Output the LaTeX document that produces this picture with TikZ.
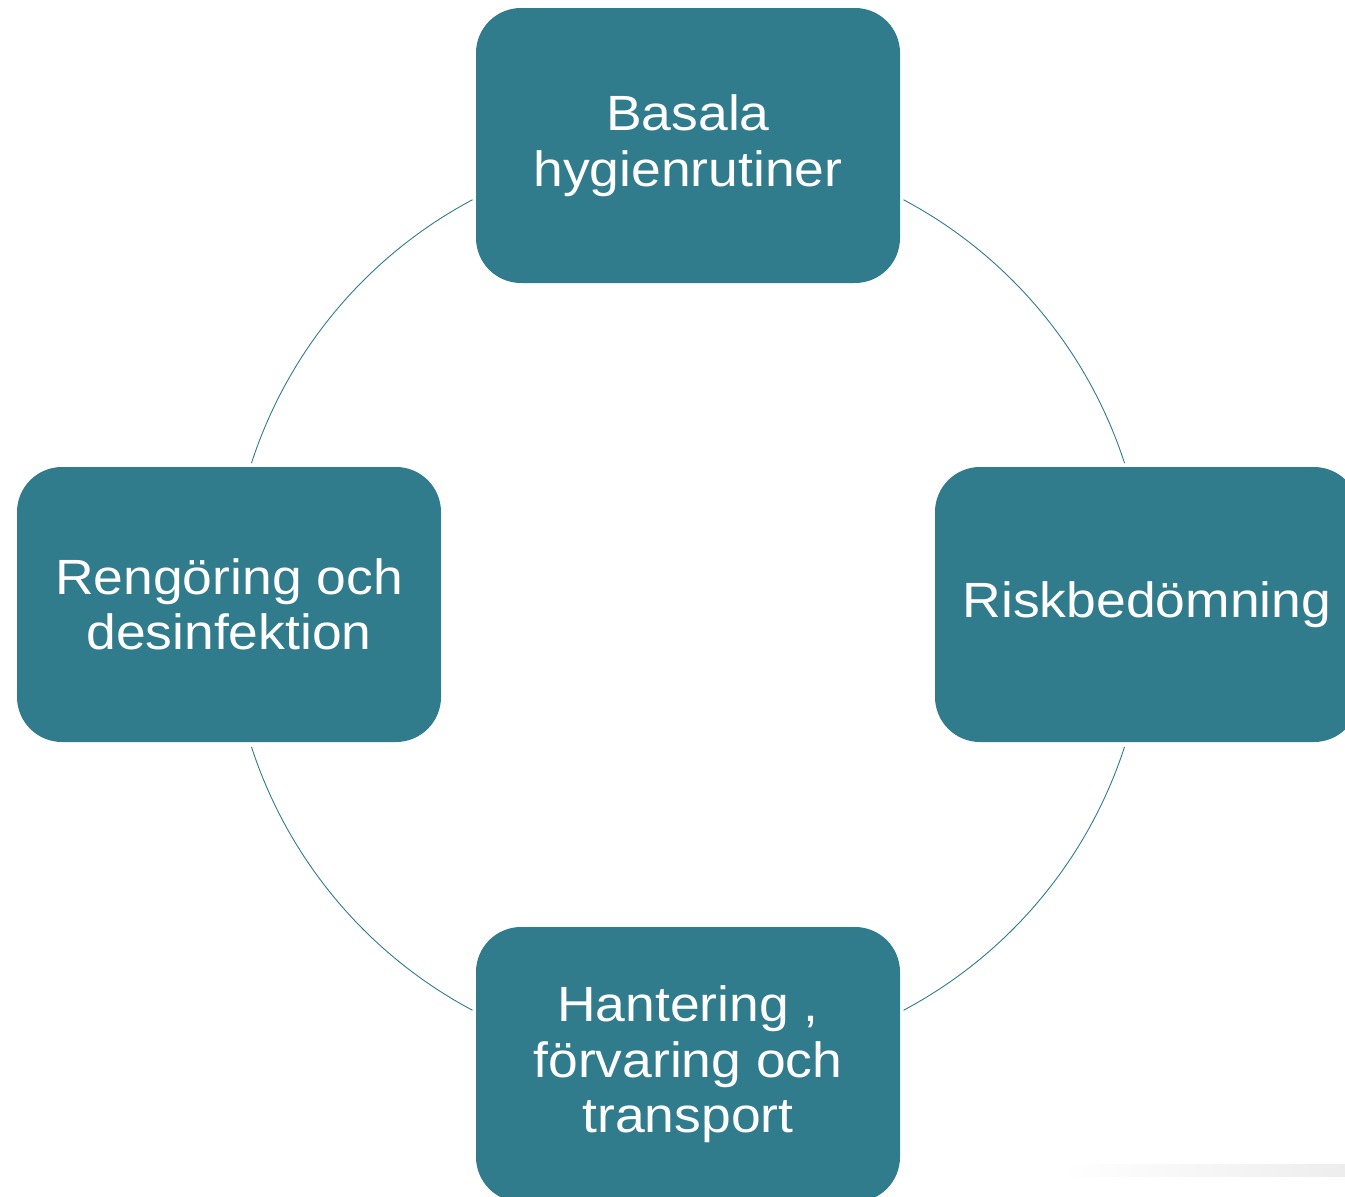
\documentclass[tikz,border=0pt]{standalone}
\usepackage{fontspec}
\setmainfont{Liberation Sans}[FakeStretch=1.08]
\definecolor{teal1}{RGB}{48,123,140}
\tikzset{
  cyclebox/.style={draw=none, fill=teal1, rounded corners=45pt, minimum width=424pt, minimum height=275pt,
    text=white, align=center, inner sep=0pt, font=\fontsize{49.5}{55.5}\selectfont},
  ring/.style={draw=teal1, line width=0.9pt}
}
\begin{document}
\begin{tikzpicture}[x=1pt,y=-1pt]
\useasboundingbox (0,0) rectangle (1345,1197);
\clip (0,0) rectangle (1345,1197);
\coordinate (c) at (688,605);
% faint shadow
\shade[left color=white, right color=black!7] (1060,1164) rectangle (1345,1176);
% ring arcs (screen angles a -> coordinate angle -a because y is flipped)
\draw[ring] ([shift={(-62:459)}]c) arc[start angle=-62, end angle=-18, radius=459];
\draw[ring] ([shift={(-118:459)}]c) arc[start angle=-118, end angle=-162, radius=459];
\draw[ring] ([shift={(-198:459)}]c) arc[start angle=-198, end angle=-242, radius=459];
\draw[ring] ([shift={(-298:459)}]c) arc[start angle=-298, end angle=-342, radius=459];
% boxes
\node[cyclebox] (top) at (688,145.5) {Basala\\hygienrutiner};
\node[cyclebox] (right) at (1147,604.5) {Riskbedömning};
\node[cyclebox] (bottom) at (688,1064.5) {Hantering ,\\förvaring och\\transport};
\node[cyclebox] (left) at (229,604.5) {Rengöring och\\desinfektion};
\end{tikzpicture}
\end{document}
